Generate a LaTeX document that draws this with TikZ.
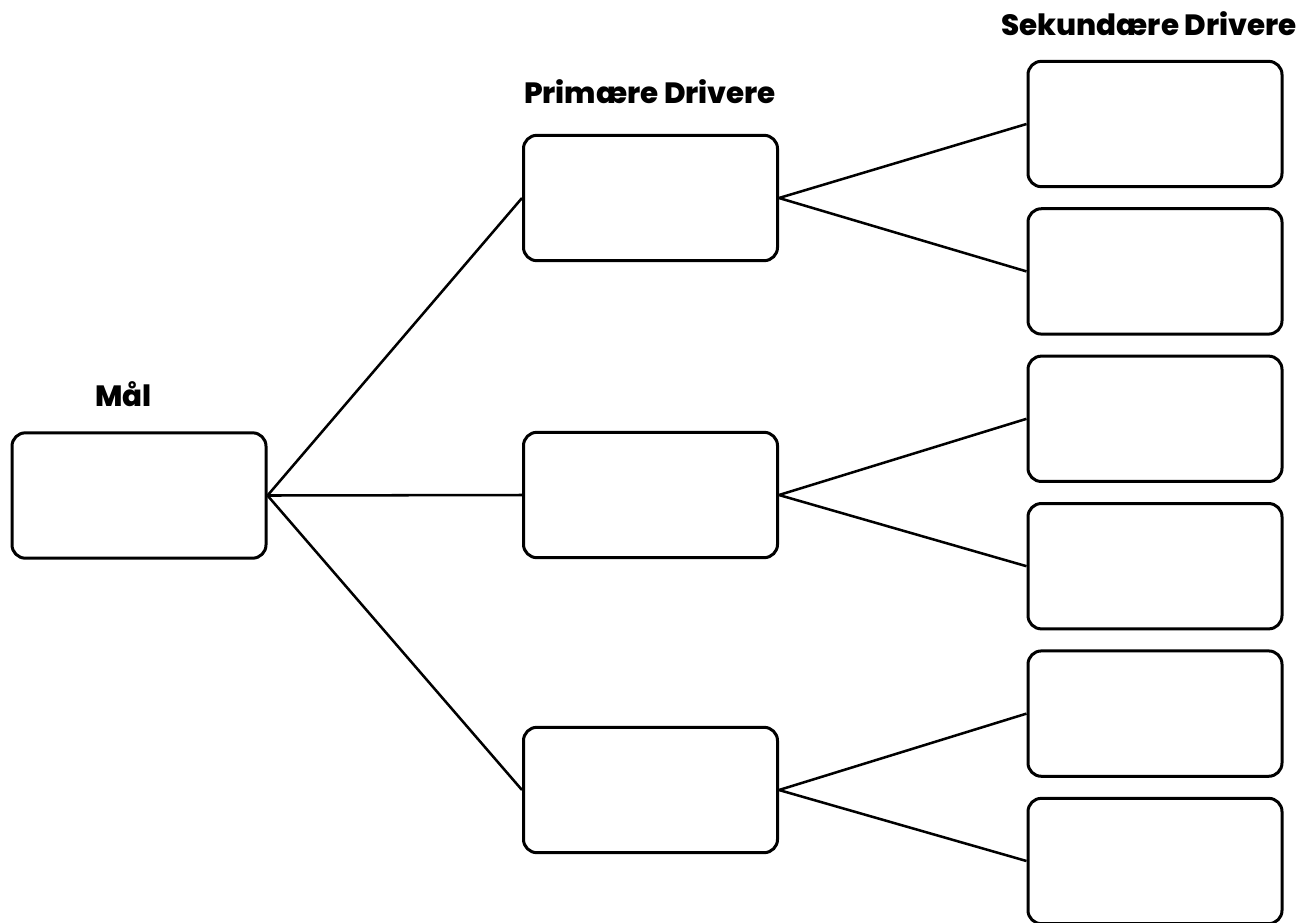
\documentclass[tikz,border=0pt]{standalone}
\usepackage{fontspec}
\setmainfont{Poppins}
\newfontfamily\headfont{Poppins ExtraBold}
\usetikzlibrary{positioning}

\begin{document}
\begin{tikzpicture}[
  x=0.75pt,y=-0.75pt,
  box/.style={rectangle,draw,line width=2.25pt,rounded corners=10pt,
              minimum width=190.5pt,minimum height=94pt,inner sep=0pt},
  link/.style={line width=1.9pt},
  heading/.style={font=\headfont\fontsize{22}{26}\selectfont,anchor=base},
]
  \useasboundingbox (0,0) rectangle (1299,922);

  \node[box] (goal) at (139,495.5) {};

  \foreach \i/\y in {1/198,2/495,3/790}
    \node[box] (p\i) at (650.5,\y) {};

  \foreach \i in {1,...,6}
    \node[box] (s\i) at (1155,{124+147.4*(\i-1)}) {};

  \foreach \i in {1,2,3}
    \draw[link] (goal.east) -- (p\i.west);

  \foreach \i/\a/\b in {1/1/2,2/3/4,3/5/6}{
    \draw[link] (p\i.east) -- (s\a.west);
    \draw[link] (p\i.east) -- (s\b.west);
  }

  \node[heading] (goaltitle) at (123.5,406) {Mål};
  \node[heading] (ptitle) at (650,103) {Primære Drivere};
  \node[heading] (stitle) at (1149,35) {Sekundære Drivere};
\end{tikzpicture}
\end{document}
